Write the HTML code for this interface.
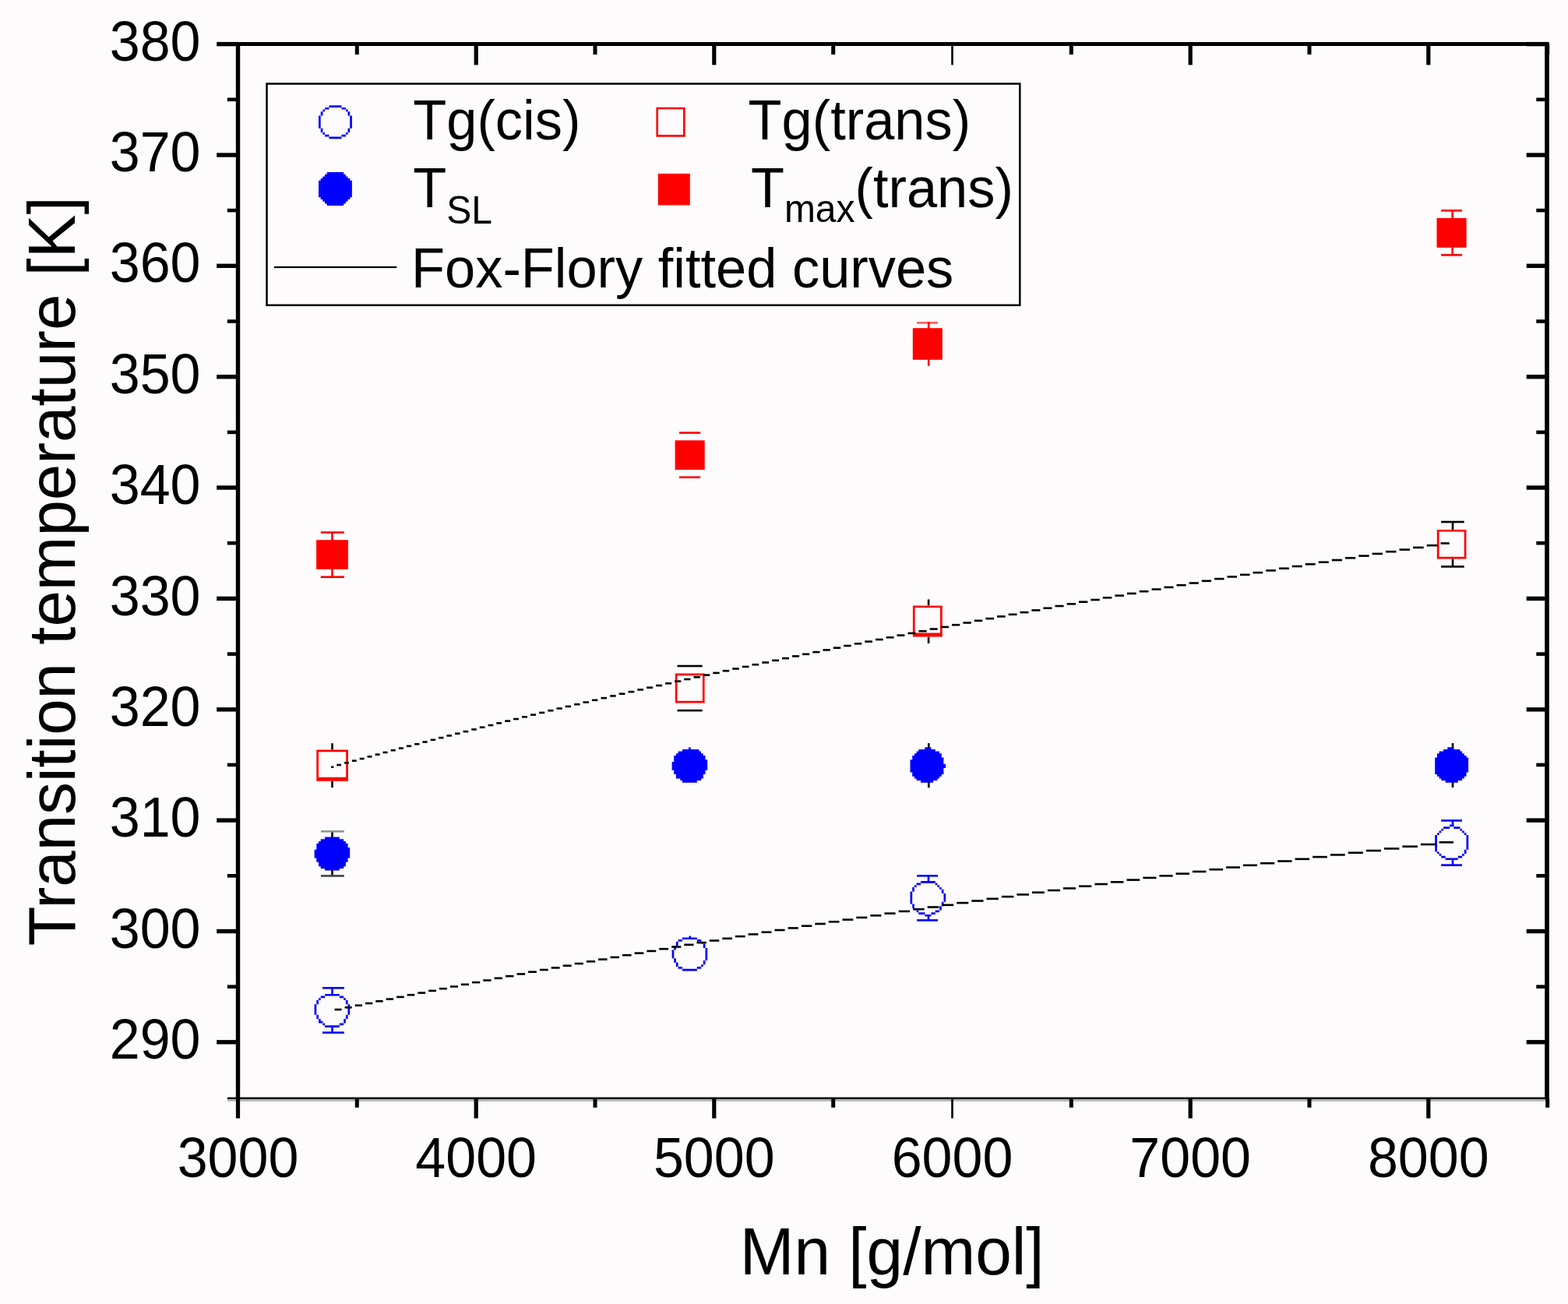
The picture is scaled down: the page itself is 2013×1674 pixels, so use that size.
<!DOCTYPE html>
<html><head><meta charset="utf-8"><title>Transition temperature vs Mn</title>
<style>
html,body{margin:0;padding:0;background:#fdfbfc;}
svg{display:block;}
text{font-family:'Liberation Sans', Arial, sans-serif;fill:#000;}
</style></head>
<body>
<svg width="2013" height="1674" viewBox="0 0 2013 1674">
<rect width="2013" height="1674" fill="#fdfbfc"/>
<rect x="302.8" y="54.0" width="1685.9" height="5.0" fill="#000"/>
<rect x="302.8" y="54.0" width="5.4" height="1359.5" fill="#000"/>
<rect x="1983.2" y="56.0" width="5.6" height="1357.5" fill="#000"/>
<rect x="292.0" y="1408.6" width="1696.8" height="2.4" fill="#000"/>
<rect x="292.0" y="1411.0" width="1696.8" height="2.9" fill="#b3b3b3"/>
<rect x="278.2" y="1335.1" width="27.3" height="5.4" fill="#000"/>
<rect x="1959.7" y="1335.1" width="26.3" height="5.4" fill="#000"/>
<rect x="278.2" y="1192.8" width="27.3" height="5.4" fill="#000"/>
<rect x="1959.7" y="1192.8" width="26.3" height="5.4" fill="#000"/>
<rect x="278.2" y="1050.4" width="27.3" height="5.4" fill="#000"/>
<rect x="1959.7" y="1050.4" width="26.3" height="5.4" fill="#000"/>
<rect x="278.2" y="908.1" width="27.3" height="5.4" fill="#000"/>
<rect x="1959.7" y="908.1" width="26.3" height="5.4" fill="#000"/>
<rect x="278.2" y="765.7" width="27.3" height="5.4" fill="#000"/>
<rect x="1959.7" y="765.7" width="26.3" height="5.4" fill="#000"/>
<rect x="278.2" y="623.3" width="27.3" height="5.4" fill="#000"/>
<rect x="1959.7" y="623.3" width="26.3" height="5.4" fill="#000"/>
<rect x="278.2" y="481.0" width="27.3" height="5.4" fill="#000"/>
<rect x="1959.7" y="481.0" width="26.3" height="5.4" fill="#000"/>
<rect x="278.2" y="338.6" width="27.3" height="5.4" fill="#000"/>
<rect x="1959.7" y="338.6" width="26.3" height="5.4" fill="#000"/>
<rect x="278.2" y="196.3" width="27.3" height="5.4" fill="#000"/>
<rect x="1959.7" y="196.3" width="26.3" height="5.4" fill="#000"/>
<rect x="278.2" y="53.9" width="27.3" height="5.4" fill="#000"/>
<rect x="1959.7" y="53.9" width="26.3" height="5.4" fill="#000"/>
<rect x="291.8" y="1264.4" width="13.7" height="4.6" fill="#000"/>
<rect x="1972.3" y="1264.4" width="13.7" height="4.6" fill="#000"/>
<rect x="291.8" y="1122.0" width="13.7" height="4.6" fill="#000"/>
<rect x="1972.3" y="1122.0" width="13.7" height="4.6" fill="#000"/>
<rect x="291.8" y="979.6" width="13.7" height="4.6" fill="#000"/>
<rect x="1972.3" y="979.6" width="13.7" height="4.6" fill="#000"/>
<rect x="291.8" y="837.3" width="13.7" height="4.6" fill="#000"/>
<rect x="1972.3" y="837.3" width="13.7" height="4.6" fill="#000"/>
<rect x="291.8" y="694.9" width="13.7" height="4.6" fill="#000"/>
<rect x="1972.3" y="694.9" width="13.7" height="4.6" fill="#000"/>
<rect x="291.8" y="552.6" width="13.7" height="4.6" fill="#000"/>
<rect x="1972.3" y="552.6" width="13.7" height="4.6" fill="#000"/>
<rect x="291.8" y="410.2" width="13.7" height="4.6" fill="#000"/>
<rect x="1972.3" y="410.2" width="13.7" height="4.6" fill="#000"/>
<rect x="291.8" y="267.8" width="13.7" height="4.6" fill="#000"/>
<rect x="1972.3" y="267.8" width="13.7" height="4.6" fill="#000"/>
<rect x="291.8" y="125.5" width="13.7" height="4.6" fill="#000"/>
<rect x="1972.3" y="125.5" width="13.7" height="4.6" fill="#000"/>
<rect x="302.9" y="1411.0" width="5.2" height="24.6" fill="#000"/>
<rect x="608.6" y="1411.0" width="5.2" height="24.6" fill="#000"/>
<rect x="608.6" y="56.5" width="5.2" height="26.9" fill="#000"/>
<rect x="914.2" y="1411.0" width="5.2" height="24.6" fill="#000"/>
<rect x="914.2" y="56.5" width="5.2" height="26.9" fill="#000"/>
<rect x="1221.2" y="1411.0" width="2.6" height="24.6" fill="#000"/>
<rect x="1221.2" y="56.5" width="2.6" height="26.9" fill="#000"/>
<rect x="1525.6" y="1411.0" width="5.2" height="24.6" fill="#000"/>
<rect x="1525.6" y="56.5" width="5.2" height="26.9" fill="#000"/>
<rect x="1831.2" y="1411.0" width="5.2" height="24.6" fill="#000"/>
<rect x="1831.2" y="56.5" width="5.2" height="26.9" fill="#000"/>
<rect x="455.8" y="1411.0" width="5.0" height="10.8" fill="#000"/>
<rect x="455.8" y="56.5" width="5.0" height="13.5" fill="#000"/>
<rect x="761.5" y="1411.0" width="5.0" height="10.8" fill="#000"/>
<rect x="761.5" y="56.5" width="5.0" height="13.5" fill="#000"/>
<rect x="1067.2" y="1411.0" width="5.0" height="10.8" fill="#000"/>
<rect x="1067.2" y="56.5" width="5.0" height="13.5" fill="#000"/>
<rect x="1372.8" y="1411.0" width="5.0" height="10.8" fill="#000"/>
<rect x="1372.8" y="56.5" width="5.0" height="13.5" fill="#000"/>
<rect x="1678.5" y="1411.0" width="5.0" height="10.8" fill="#000"/>
<rect x="1678.5" y="56.5" width="5.0" height="13.5" fill="#000"/>
<rect x="1984.2" y="1411.0" width="5.0" height="10.8" fill="#000"/>
<rect x="1984.2" y="56.5" width="5.0" height="13.5" fill="#000"/>
<text transform="matrix(1,0,0,1.035,0,-47.57)" x="257.5" y="1359.0" text-anchor="end" font-size="70">290</text>
<text transform="matrix(1,0,0,1.035,0,-42.58)" x="257.5" y="1216.7" text-anchor="end" font-size="70">300</text>
<text transform="matrix(1,0,0,1.035,0,-37.60)" x="257.5" y="1074.3" text-anchor="end" font-size="70">310</text>
<text transform="matrix(1,0,0,1.035,0,-32.62)" x="257.5" y="932.0" text-anchor="end" font-size="70">320</text>
<text transform="matrix(1,0,0,1.035,0,-27.64)" x="257.5" y="789.6" text-anchor="end" font-size="70">330</text>
<text transform="matrix(1,0,0,1.035,0,-22.65)" x="257.5" y="647.2" text-anchor="end" font-size="70">340</text>
<text transform="matrix(1,0,0,1.035,0,-17.67)" x="257.5" y="504.9" text-anchor="end" font-size="70">350</text>
<text transform="matrix(1,0,0,1.035,0,-12.69)" x="257.5" y="362.5" text-anchor="end" font-size="70">360</text>
<text transform="matrix(1,0,0,1.035,0,-7.71)" x="257.5" y="220.2" text-anchor="end" font-size="70">370</text>
<text transform="matrix(1,0,0,1.035,0,-2.72)" x="257.5" y="77.8" text-anchor="end" font-size="70">380</text>
<text transform="matrix(1,0,0,1.035,0,-52.88)" x="305.5" y="1511" text-anchor="middle" font-size="70">3000</text>
<text transform="matrix(1,0,0,1.035,0,-52.88)" x="611.2" y="1511" text-anchor="middle" font-size="70">4000</text>
<text transform="matrix(1,0,0,1.035,0,-52.88)" x="916.8" y="1511" text-anchor="middle" font-size="70">5000</text>
<text transform="matrix(1,0,0,1.035,0,-52.88)" x="1222.5" y="1511" text-anchor="middle" font-size="70">6000</text>
<text transform="matrix(1,0,0,1.035,0,-52.88)" x="1528.2" y="1511" text-anchor="middle" font-size="70">7000</text>
<text transform="matrix(1,0,0,1.035,0,-52.88)" x="1833.8" y="1511" text-anchor="middle" font-size="70">8000</text>
<text transform="matrix(1,0,0,1.015,0,-24.55)" x="1145.2" y="1636.5" text-anchor="middle" font-size="83.7">Mn [g/mol]</text>
<text transform="translate(95.5,733.4) rotate(-90) scale(1,1.015)" x="0" y="0" text-anchor="middle" font-size="83.5">Transition temperature [K]</text>
<rect x="425.2" y="683.5" width="2.6" height="57.2" fill="#ff0000"/>
<rect x="411.8" y="682.2" width="30.0" height="2.6" fill="#ff0000"/>
<rect x="411.8" y="739.4" width="30.0" height="2.6" fill="#ff0000"/>
<rect x="406.1" y="693.2" width="40.8" height="37.6" fill="#ff0000"/>
<rect x="872.0" y="554.3" width="27.2" height="2.6" fill="#ff0000"/>
<rect x="872.0" y="611.4" width="27.2" height="2.6" fill="#ff0000"/>
<rect x="866.6" y="565.3" width="38.1" height="37.8" fill="#ff0000"/>
<rect x="1177.0" y="413.1" width="27.0" height="2.6" fill="#ff5a5a"/>
<rect x="1190.9" y="413.2" width="2.6" height="56.5" fill="#ff0000"/>
<rect x="1171.8" y="421.2" width="38.0" height="40.6" fill="#ff0000"/>
<rect x="1863.3" y="270.3" width="2.6" height="57.1" fill="#ff0000"/>
<rect x="1850.1" y="269.0" width="26.9" height="2.6" fill="#ff0000"/>
<rect x="1850.1" y="326.1" width="26.9" height="2.6" fill="#ff0000"/>
<rect x="1844.5" y="280.0" width="38.1" height="37.8" fill="#ff0000"/>
<rect x="425.2" y="954.2" width="2.6" height="8.3" fill="#000"/>
<rect x="425.2" y="1002.8" width="2.6" height="8.2" fill="#000"/>
<path fill-rule="evenodd" fill="#ff0000" d="M406.3 962.5H446.9V1002.8H406.3zM409.0 965.2V997.8H444.2V965.2z"/>
<rect x="869.5" y="853.7" width="32.2" height="2.6" fill="#000"/>
<rect x="869.5" y="910.8" width="32.2" height="2.6" fill="#000"/>
<path fill-rule="evenodd" fill="#ff0000" d="M866.8 864.6H904.6V902.5H866.8zM869.5 867.3V899.8H901.9V867.3z"/>
<rect x="1190.8" y="769.5" width="2.6" height="7.9" fill="#000"/>
<rect x="1190.8" y="817.6" width="2.6" height="8.4" fill="#000"/>
<path fill-rule="evenodd" fill="#ff0000" d="M1171.9 777.4H1209.7V817.6H1171.9zM1174.6 780.1V812.6H1207.0V780.1z"/>
<rect x="1863.7" y="670.0" width="2.6" height="9.9" fill="#000"/>
<rect x="1863.7" y="717.5" width="2.6" height="9.9" fill="#000"/>
<rect x="1850.1" y="668.7" width="29.6" height="2.6" fill="#000"/>
<rect x="1850.1" y="726.1" width="29.6" height="2.6" fill="#000"/>
<path fill-rule="evenodd" fill="#ff0000" d="M1844.8 679.9H1882.4V717.5H1844.8zM1847.5 682.6V714.8H1879.7V682.6z"/>
<rect x="425.2" y="1067.3" width="2.6" height="57.1" fill="#000"/>
<rect x="412.0" y="1066.0" width="29.8" height="2.6" fill="#8c9c8c"/>
<rect x="412.0" y="1123.1" width="29.8" height="2.6" fill="#3c463c"/>
<path d="M417.0 1074.6h18.8v2.68h-18.8zM411.7 1077.3h29.5v2.68h-29.5zM409.0 1080.0h34.9v2.68h-34.9zM406.3 1082.7h40.3v2.68h-40.3zM406.3 1085.3h40.3v2.68h-40.3zM406.3 1088.0h42.9v2.68h-42.9zM403.6 1090.7h45.6v2.68h-45.6zM403.6 1093.4h45.6v2.68h-45.6zM403.6 1096.1h45.6v2.68h-45.6zM403.6 1098.8h45.6v2.68h-45.6zM406.3 1101.4h40.3v2.68h-40.3zM406.3 1104.1h40.3v2.68h-40.3zM409.0 1106.8h34.9v2.68h-34.9zM409.0 1109.5h34.9v2.68h-34.9zM411.7 1112.2h29.5v2.68h-29.5zM417.0 1114.9h18.8v2.68h-18.8z" fill="#0000ff"/>
<path d="M884.0 959.2h2.7v2.68h-2.7zM876.0 961.9h21.5v2.68h-21.5zM870.6 964.6h29.5v2.68h-29.5zM867.9 967.2h34.9v2.68h-34.9zM865.2 969.9h40.3v2.68h-40.3zM865.2 972.6h40.3v2.68h-40.3zM865.2 975.3h42.9v2.68h-42.9zM862.6 978.0h45.6v2.68h-45.6zM862.6 980.7h45.6v2.68h-45.6zM862.6 983.3h45.6v2.68h-45.6zM862.6 986.0h45.6v2.68h-45.6zM865.2 988.7h40.3v2.68h-40.3zM865.2 991.4h40.3v2.68h-40.3zM867.9 994.1h34.9v2.68h-34.9zM867.9 996.8h34.9v2.68h-34.9zM873.3 999.4h26.8v2.68h-26.8zM876.0 1002.1h18.8v2.68h-18.8z" fill="#0000ff"/>
<rect x="1191.0" y="954.1" width="2.6" height="57.1" fill="#000"/>
<path d="M1187.3 959.2h8.1v2.68h-8.1zM1179.3 961.9h21.5v2.68h-21.5zM1176.6 964.6h29.5v2.68h-29.5zM1173.9 967.2h34.9v2.68h-34.9zM1171.2 969.9h37.6v2.68h-37.6zM1171.2 972.6h40.3v2.68h-40.3zM1168.5 975.3h42.9v2.68h-42.9zM1168.5 978.0h42.9v2.68h-42.9zM1168.5 980.7h45.6v2.68h-45.6zM1168.5 983.3h45.6v2.68h-45.6zM1168.5 986.0h42.9v2.68h-42.9zM1168.5 988.7h42.9v2.68h-42.9zM1171.2 991.4h40.3v2.68h-40.3zM1171.2 994.1h37.6v2.68h-37.6zM1173.9 996.8h32.2v2.68h-32.2zM1176.6 999.4h26.8v2.68h-26.8zM1182.0 1002.1h16.1v2.68h-16.1z" fill="#0000ff"/>
<rect x="1863.7" y="954.0" width="2.6" height="57.0" fill="#000"/>
<path d="M1858.3 959.2h8.1v2.68h-8.1zM1853.0 961.9h21.5v2.68h-21.5zM1847.6 964.6h29.5v2.68h-29.5zM1844.9 967.2h34.9v2.68h-34.9zM1844.9 969.9h37.6v2.68h-37.6zM1842.2 972.6h42.9v2.68h-42.9zM1842.2 975.3h42.9v2.68h-42.9zM1842.2 978.0h42.9v2.68h-42.9zM1842.2 980.7h42.9v2.68h-42.9zM1842.2 983.3h42.9v2.68h-42.9zM1842.2 986.0h42.9v2.68h-42.9zM1842.2 988.7h42.9v2.68h-42.9zM1842.2 991.4h40.3v2.68h-40.3zM1844.9 994.1h37.6v2.68h-37.6zM1847.6 996.8h32.2v2.68h-32.2zM1850.3 999.4h26.8v2.68h-26.8zM1855.6 1002.1h16.1v2.68h-16.1z" fill="#0000ff"/>
<rect x="425.2" y="1268.3" width="2.6" height="7.7" fill="#0000ff"/>
<rect x="425.2" y="1318.0" width="2.6" height="7.6" fill="#0000ff"/>
<rect x="414.0" y="1267.0" width="27.8" height="2.6" fill="#0000ff"/>
<rect x="414.0" y="1324.3" width="27.8" height="2.6" fill="#0000ff"/>
<path d="M417.0 1275.9h18.8v2.68h-18.8zM411.7 1278.6h5.4v2.68h-5.4zM435.8 1278.6h5.4v2.68h-5.4zM409.0 1281.3h2.7v2.68h-2.7zM441.2 1281.3h2.7v2.68h-2.7zM406.3 1284.0h2.7v2.68h-2.7zM443.9 1284.0h2.7v2.68h-2.7zM406.3 1286.6h2.7v2.68h-2.7zM443.9 1286.6h2.7v2.68h-2.7zM403.6 1289.3h2.7v2.68h-2.7zM446.5 1289.3h2.7v2.68h-2.7zM403.6 1292.0h2.7v2.68h-2.7zM446.5 1292.0h2.7v2.68h-2.7zM403.6 1294.7h2.7v2.68h-2.7zM446.5 1294.7h2.7v2.68h-2.7zM403.6 1297.4h2.7v2.68h-2.7zM446.5 1297.4h2.7v2.68h-2.7zM403.6 1300.1h2.7v2.68h-2.7zM446.5 1300.1h2.7v2.68h-2.7zM406.3 1302.7h2.7v2.68h-2.7zM443.9 1302.7h2.7v2.68h-2.7zM406.3 1305.4h2.7v2.68h-2.7zM443.9 1305.4h2.7v2.68h-2.7zM409.0 1308.1h2.7v2.68h-2.7zM441.2 1308.1h2.7v2.68h-2.7zM409.0 1310.8h5.4v2.68h-5.4zM441.2 1310.8h2.7v2.68h-2.7zM414.3 1313.5h2.7v2.68h-2.7zM435.8 1313.5h5.4v2.68h-5.4zM417.0 1316.2h18.8v2.68h-18.8z" fill="#0000ff"/>
<rect x="884.5" y="1201.5" width="2.6" height="3.0" fill="#0000ff"/>
<path d="M876.0 1203.4h18.8v2.68h-18.8zM870.6 1206.1h5.4v2.68h-5.4zM894.8 1206.1h5.4v2.68h-5.4zM867.9 1208.8h2.7v2.68h-2.7zM900.1 1208.8h2.7v2.68h-2.7zM867.9 1211.5h2.7v2.68h-2.7zM902.8 1211.5h2.7v2.68h-2.7zM865.2 1214.2h2.7v2.68h-2.7zM902.8 1214.2h2.7v2.68h-2.7zM865.2 1216.9h2.7v2.68h-2.7zM905.5 1216.9h2.7v2.68h-2.7zM862.6 1219.5h2.7v2.68h-2.7zM905.5 1219.5h2.7v2.68h-2.7zM862.6 1222.2h2.7v2.68h-2.7zM905.5 1222.2h2.7v2.68h-2.7zM862.6 1224.9h2.7v2.68h-2.7zM905.5 1224.9h2.7v2.68h-2.7zM862.6 1227.6h2.7v2.68h-2.7zM905.5 1227.6h2.7v2.68h-2.7zM865.2 1230.3h2.7v2.68h-2.7zM905.5 1230.3h2.7v2.68h-2.7zM865.2 1233.0h2.7v2.68h-2.7zM902.8 1233.0h2.7v2.68h-2.7zM867.9 1235.6h2.7v2.68h-2.7zM902.8 1235.6h2.7v2.68h-2.7zM867.9 1238.3h2.7v2.68h-2.7zM900.1 1238.3h2.7v2.68h-2.7zM870.6 1241.0h5.4v2.68h-5.4zM894.8 1241.0h5.4v2.68h-5.4zM876.0 1243.7h18.8v2.68h-18.8z" fill="#0000ff"/>
<rect x="1190.7" y="1124.3" width="2.6" height="7.7" fill="#0000ff"/>
<rect x="1190.7" y="1174.0" width="2.6" height="7.4" fill="#0000ff"/>
<rect x="1177.1" y="1123.0" width="26.9" height="2.6" fill="#0000ff"/>
<rect x="1177.1" y="1180.1" width="26.9" height="2.6" fill="#0000ff"/>
<path d="M1182.0 1131.0h18.8v2.68h-18.8zM1176.6 1133.6h5.4v2.68h-5.4zM1200.7 1133.6h2.7v2.68h-2.7zM1173.9 1136.3h2.7v2.68h-2.7zM1203.4 1136.3h2.7v2.68h-2.7zM1171.2 1139.0h2.7v2.68h-2.7zM1206.1 1139.0h2.7v2.68h-2.7zM1171.2 1141.7h2.7v2.68h-2.7zM1208.8 1141.7h2.7v2.68h-2.7zM1168.5 1144.4h2.7v2.68h-2.7zM1208.8 1144.4h2.7v2.68h-2.7zM1168.5 1147.1h2.7v2.68h-2.7zM1211.5 1147.1h2.7v2.68h-2.7zM1168.5 1149.8h2.7v2.68h-2.7zM1211.5 1149.8h2.7v2.68h-2.7zM1168.5 1152.4h2.7v2.68h-2.7zM1211.5 1152.4h2.7v2.68h-2.7zM1168.5 1155.1h2.7v2.68h-2.7zM1211.5 1155.1h2.7v2.68h-2.7zM1168.5 1157.8h2.7v2.68h-2.7zM1208.8 1157.8h2.7v2.68h-2.7zM1171.2 1160.5h2.7v2.68h-2.7zM1208.8 1160.5h2.7v2.68h-2.7zM1171.2 1163.2h2.7v2.68h-2.7zM1206.1 1163.2h2.7v2.68h-2.7zM1173.9 1165.9h2.7v2.68h-2.7zM1206.1 1165.9h2.7v2.68h-2.7zM1176.6 1168.5h2.7v2.68h-2.7zM1200.7 1168.5h5.4v2.68h-5.4zM1179.3 1171.2h8.1v2.68h-8.1zM1195.4 1171.2h5.4v2.68h-5.4zM1187.3 1173.9h8.1v2.68h-8.1z" fill="#0000ff"/>
<rect x="1863.7" y="1053.4" width="2.6" height="7.6" fill="#0000ff"/>
<rect x="1863.7" y="1103.0" width="2.6" height="7.6" fill="#0000ff"/>
<rect x="1850.1" y="1052.1" width="26.9" height="2.6" fill="#0000ff"/>
<rect x="1850.1" y="1109.3" width="26.9" height="2.6" fill="#0000ff"/>
<path d="M1861.0 1058.5h5.4v2.68h-5.4zM1853.0 1061.2h8.1v2.68h-8.1zM1866.4 1061.2h8.1v2.68h-8.1zM1850.3 1063.9h2.7v2.68h-2.7zM1874.4 1063.9h2.7v2.68h-2.7zM1847.6 1066.5h2.7v2.68h-2.7zM1877.1 1066.5h2.7v2.68h-2.7zM1844.9 1069.2h2.7v2.68h-2.7zM1879.8 1069.2h2.7v2.68h-2.7zM1842.2 1071.9h2.7v2.68h-2.7zM1882.5 1071.9h2.7v2.68h-2.7zM1842.2 1074.6h2.7v2.68h-2.7zM1882.5 1074.6h2.7v2.68h-2.7zM1842.2 1077.3h2.7v2.68h-2.7zM1882.5 1077.3h2.7v2.68h-2.7zM1842.2 1080.0h2.7v2.68h-2.7zM1882.5 1080.0h2.7v2.68h-2.7zM1842.2 1082.7h2.7v2.68h-2.7zM1882.5 1082.7h2.7v2.68h-2.7zM1842.2 1085.3h2.7v2.68h-2.7zM1882.5 1085.3h2.7v2.68h-2.7zM1842.2 1088.0h2.7v2.68h-2.7zM1882.5 1088.0h2.7v2.68h-2.7zM1842.2 1090.7h2.7v2.68h-2.7zM1879.8 1090.7h2.7v2.68h-2.7zM1844.9 1093.4h2.7v2.68h-2.7zM1879.8 1093.4h2.7v2.68h-2.7zM1847.6 1096.1h2.7v2.68h-2.7zM1877.1 1096.1h2.7v2.68h-2.7zM1850.3 1098.8h5.4v2.68h-5.4zM1871.7 1098.8h5.4v2.68h-5.4zM1855.6 1101.4h16.1v2.68h-16.1z" fill="#0000ff"/>
<rect x="425.1" y="983.4" width="3.2" height="2.6" fill="#000"/>
<rect x="432.3" y="980.7" width="5.7" height="2.6" fill="#000"/>
<rect x="442.1" y="978.0" width="5.8" height="2.6" fill="#000"/>
<rect x="451.9" y="975.3" width="5.8" height="2.6" fill="#000"/>
<rect x="461.7" y="972.7" width="5.9" height="2.6" fill="#000"/>
<rect x="471.6" y="970.0" width="5.9" height="2.6" fill="#000"/>
<rect x="481.6" y="967.3" width="6.0" height="2.6" fill="#000"/>
<rect x="491.6" y="964.6" width="6.0" height="2.6" fill="#000"/>
<rect x="501.7" y="961.9" width="6.1" height="2.6" fill="#000"/>
<rect x="511.8" y="959.2" width="6.1" height="2.6" fill="#000"/>
<rect x="521.9" y="956.5" width="6.2" height="2.6" fill="#000"/>
<rect x="532.1" y="953.9" width="6.3" height="2.6" fill="#000"/>
<rect x="542.4" y="951.2" width="6.3" height="2.6" fill="#000"/>
<rect x="552.7" y="948.5" width="6.4" height="2.6" fill="#000"/>
<rect x="563.1" y="945.8" width="6.4" height="2.6" fill="#000"/>
<rect x="573.5" y="943.1" width="6.5" height="2.6" fill="#000"/>
<rect x="584.0" y="940.4" width="6.5" height="2.6" fill="#000"/>
<rect x="594.6" y="937.8" width="6.6" height="2.6" fill="#000"/>
<rect x="605.2" y="935.1" width="6.6" height="2.6" fill="#000"/>
<rect x="615.8" y="932.4" width="6.7" height="2.6" fill="#000"/>
<rect x="626.6" y="929.7" width="6.7" height="2.6" fill="#000"/>
<rect x="637.3" y="927.0" width="6.8" height="2.6" fill="#000"/>
<rect x="648.2" y="924.3" width="6.9" height="2.6" fill="#000"/>
<rect x="659.1" y="921.7" width="6.9" height="2.6" fill="#000"/>
<rect x="670.0" y="919.0" width="7.0" height="2.6" fill="#000"/>
<rect x="681.0" y="916.3" width="7.1" height="2.6" fill="#000"/>
<rect x="692.1" y="913.6" width="7.1" height="2.6" fill="#000"/>
<rect x="703.3" y="910.9" width="7.2" height="2.6" fill="#000"/>
<rect x="714.5" y="908.2" width="7.2" height="2.6" fill="#000"/>
<rect x="725.7" y="905.6" width="7.3" height="2.6" fill="#000"/>
<rect x="737.1" y="902.9" width="7.4" height="2.6" fill="#000"/>
<rect x="748.5" y="900.2" width="7.4" height="2.6" fill="#000"/>
<rect x="759.9" y="897.5" width="7.5" height="2.6" fill="#000"/>
<rect x="771.5" y="894.8" width="7.6" height="2.6" fill="#000"/>
<rect x="783.1" y="892.1" width="7.6" height="2.6" fill="#000"/>
<rect x="794.7" y="889.4" width="7.7" height="2.6" fill="#000"/>
<rect x="806.5" y="886.8" width="7.8" height="2.6" fill="#000"/>
<rect x="818.3" y="884.1" width="7.8" height="2.6" fill="#000"/>
<rect x="830.1" y="881.4" width="7.9" height="2.6" fill="#000"/>
<rect x="842.1" y="878.7" width="8.0" height="2.6" fill="#000"/>
<rect x="854.1" y="876.0" width="8.0" height="2.6" fill="#000"/>
<rect x="866.2" y="873.3" width="8.1" height="2.6" fill="#000"/>
<rect x="878.3" y="870.7" width="8.2" height="2.6" fill="#000"/>
<rect x="890.6" y="868.0" width="8.3" height="2.6" fill="#000"/>
<rect x="902.9" y="865.3" width="8.4" height="2.6" fill="#000"/>
<rect x="915.3" y="862.6" width="8.4" height="2.6" fill="#000"/>
<rect x="927.7" y="859.9" width="8.5" height="2.6" fill="#000"/>
<rect x="940.2" y="857.2" width="8.6" height="2.6" fill="#000"/>
<rect x="952.8" y="854.6" width="8.7" height="2.6" fill="#000"/>
<rect x="965.5" y="851.9" width="8.7" height="2.6" fill="#000"/>
<rect x="978.3" y="849.2" width="8.8" height="2.6" fill="#000"/>
<rect x="991.1" y="846.5" width="8.9" height="2.6" fill="#000"/>
<rect x="1004.0" y="843.8" width="9.0" height="2.6" fill="#000"/>
<rect x="1017.0" y="841.1" width="9.1" height="2.6" fill="#000"/>
<rect x="1030.1" y="838.5" width="9.1" height="2.6" fill="#000"/>
<rect x="1043.3" y="835.8" width="9.2" height="2.6" fill="#000"/>
<rect x="1056.5" y="833.1" width="9.3" height="2.6" fill="#000"/>
<rect x="1069.8" y="830.4" width="9.4" height="2.6" fill="#000"/>
<rect x="1083.2" y="827.7" width="9.5" height="2.6" fill="#000"/>
<rect x="1096.7" y="825.0" width="9.6" height="2.6" fill="#000"/>
<rect x="1110.3" y="822.3" width="9.6" height="2.6" fill="#000"/>
<rect x="1124.0" y="819.7" width="9.7" height="2.6" fill="#000"/>
<rect x="1137.7" y="817.0" width="9.8" height="2.6" fill="#000"/>
<rect x="1151.5" y="814.3" width="9.9" height="2.6" fill="#000"/>
<rect x="1165.5" y="811.6" width="10.0" height="2.6" fill="#000"/>
<rect x="1179.5" y="808.9" width="10.1" height="2.6" fill="#000"/>
<rect x="1193.6" y="806.2" width="10.1" height="2.6" fill="#000"/>
<rect x="1207.7" y="803.6" width="10.3" height="2.6" fill="#000"/>
<rect x="1222.0" y="800.9" width="10.3" height="2.6" fill="#000"/>
<rect x="1236.4" y="798.2" width="10.4" height="2.6" fill="#000"/>
<rect x="1250.8" y="795.5" width="10.5" height="2.6" fill="#000"/>
<rect x="1265.4" y="792.8" width="10.6" height="2.6" fill="#000"/>
<rect x="1280.0" y="790.1" width="10.7" height="2.6" fill="#000"/>
<rect x="1294.7" y="787.5" width="10.8" height="2.6" fill="#000"/>
<rect x="1309.5" y="784.8" width="10.9" height="2.6" fill="#000"/>
<rect x="1324.4" y="782.1" width="11.0" height="2.6" fill="#000"/>
<rect x="1339.4" y="779.4" width="11.1" height="2.6" fill="#000"/>
<rect x="1354.5" y="776.7" width="11.1" height="2.6" fill="#000"/>
<rect x="1369.7" y="774.0" width="11.3" height="2.6" fill="#000"/>
<rect x="1385.0" y="771.4" width="11.3" height="2.6" fill="#000"/>
<rect x="1400.3" y="768.7" width="11.5" height="2.6" fill="#000"/>
<rect x="1415.8" y="766.0" width="11.5" height="2.6" fill="#000"/>
<rect x="1431.4" y="763.3" width="11.6" height="2.6" fill="#000"/>
<rect x="1447.0" y="760.6" width="11.7" height="2.6" fill="#000"/>
<rect x="1462.7" y="757.9" width="11.8" height="2.6" fill="#000"/>
<rect x="1478.6" y="755.2" width="11.9" height="2.6" fill="#000"/>
<rect x="1494.5" y="752.6" width="12.0" height="2.6" fill="#000"/>
<rect x="1510.5" y="749.9" width="12.1" height="2.6" fill="#000"/>
<rect x="1526.6" y="747.2" width="12.2" height="2.6" fill="#000"/>
<rect x="1542.8" y="744.5" width="12.3" height="2.6" fill="#000"/>
<rect x="1559.1" y="741.8" width="12.4" height="2.6" fill="#000"/>
<rect x="1575.5" y="739.1" width="12.5" height="2.6" fill="#000"/>
<rect x="1592.0" y="736.5" width="12.5" height="2.6" fill="#000"/>
<rect x="1608.6" y="733.8" width="12.6" height="2.6" fill="#000"/>
<rect x="1625.2" y="731.1" width="12.7" height="2.6" fill="#000"/>
<rect x="1642.0" y="728.4" width="12.8" height="2.6" fill="#000"/>
<rect x="1658.8" y="725.7" width="12.9" height="2.6" fill="#000"/>
<rect x="1675.7" y="723.0" width="13.0" height="2.6" fill="#000"/>
<rect x="1692.7" y="720.4" width="13.1" height="2.6" fill="#000"/>
<rect x="1709.8" y="717.7" width="13.2" height="2.6" fill="#000"/>
<rect x="1727.0" y="715.0" width="13.2" height="2.6" fill="#000"/>
<rect x="1744.3" y="712.3" width="13.3" height="2.6" fill="#000"/>
<rect x="1761.6" y="709.6" width="13.4" height="2.6" fill="#000"/>
<rect x="1779.0" y="706.9" width="13.5" height="2.6" fill="#000"/>
<rect x="1796.5" y="704.3" width="13.6" height="2.6" fill="#000"/>
<rect x="1814.1" y="701.6" width="13.6" height="2.6" fill="#000"/>
<rect x="1831.8" y="698.9" width="13.7" height="2.6" fill="#000"/>
<rect x="1849.5" y="696.2" width="11.2" height="2.6" fill="#000"/>
<rect x="429.6" y="1294.7" width="9.0" height="2.6" fill="#000"/>
<rect x="442.6" y="1292.0" width="9.1" height="2.6" fill="#000"/>
<rect x="455.8" y="1289.4" width="9.2" height="2.6" fill="#000"/>
<rect x="469.0" y="1286.7" width="9.3" height="2.6" fill="#000"/>
<rect x="482.3" y="1284.0" width="9.4" height="2.6" fill="#000"/>
<rect x="495.7" y="1281.3" width="9.4" height="2.6" fill="#000"/>
<rect x="509.1" y="1278.6" width="9.6" height="2.6" fill="#000"/>
<rect x="522.7" y="1275.9" width="9.6" height="2.6" fill="#000"/>
<rect x="536.4" y="1273.3" width="9.7" height="2.6" fill="#000"/>
<rect x="550.1" y="1270.6" width="9.8" height="2.6" fill="#000"/>
<rect x="563.9" y="1267.9" width="9.9" height="2.6" fill="#000"/>
<rect x="577.9" y="1265.2" width="10.0" height="2.6" fill="#000"/>
<rect x="591.9" y="1262.5" width="10.1" height="2.6" fill="#000"/>
<rect x="606.0" y="1259.8" width="10.2" height="2.6" fill="#000"/>
<rect x="620.3" y="1257.2" width="10.3" height="2.6" fill="#000"/>
<rect x="634.6" y="1254.5" width="10.4" height="2.6" fill="#000"/>
<rect x="649.0" y="1251.8" width="10.5" height="2.6" fill="#000"/>
<rect x="663.5" y="1249.1" width="10.6" height="2.6" fill="#000"/>
<rect x="678.1" y="1246.4" width="10.7" height="2.6" fill="#000"/>
<rect x="692.9" y="1243.7" width="10.8" height="2.6" fill="#000"/>
<rect x="707.7" y="1241.1" width="10.9" height="2.6" fill="#000"/>
<rect x="722.7" y="1238.4" width="11.0" height="2.6" fill="#000"/>
<rect x="737.7" y="1235.7" width="11.1" height="2.6" fill="#000"/>
<rect x="752.9" y="1233.0" width="11.2" height="2.6" fill="#000"/>
<rect x="768.1" y="1230.3" width="11.4" height="2.6" fill="#000"/>
<rect x="783.5" y="1227.6" width="11.5" height="2.6" fill="#000"/>
<rect x="799.0" y="1224.9" width="11.6" height="2.6" fill="#000"/>
<rect x="814.6" y="1222.3" width="11.7" height="2.6" fill="#000"/>
<rect x="830.4" y="1219.6" width="11.8" height="2.6" fill="#000"/>
<rect x="846.2" y="1216.9" width="11.9" height="2.6" fill="#000"/>
<rect x="862.2" y="1214.2" width="12.1" height="2.6" fill="#000"/>
<rect x="878.3" y="1211.5" width="12.2" height="2.6" fill="#000"/>
<rect x="894.5" y="1208.8" width="12.3" height="2.6" fill="#000"/>
<rect x="910.8" y="1206.2" width="12.5" height="2.6" fill="#000"/>
<rect x="927.3" y="1203.5" width="12.6" height="2.6" fill="#000"/>
<rect x="943.9" y="1200.8" width="12.7" height="2.6" fill="#000"/>
<rect x="960.6" y="1198.1" width="12.8" height="2.6" fill="#000"/>
<rect x="977.5" y="1195.4" width="13.0" height="2.6" fill="#000"/>
<rect x="994.5" y="1192.7" width="13.1" height="2.6" fill="#000"/>
<rect x="1011.6" y="1190.1" width="13.2" height="2.6" fill="#000"/>
<rect x="1028.9" y="1187.4" width="13.4" height="2.6" fill="#000"/>
<rect x="1046.3" y="1184.7" width="13.5" height="2.6" fill="#000"/>
<rect x="1063.8" y="1182.0" width="13.7" height="2.6" fill="#000"/>
<rect x="1081.5" y="1179.3" width="13.8" height="2.6" fill="#000"/>
<rect x="1099.3" y="1176.6" width="14.0" height="2.6" fill="#000"/>
<rect x="1117.3" y="1174.0" width="14.1" height="2.6" fill="#000"/>
<rect x="1135.4" y="1171.3" width="14.2" height="2.6" fill="#000"/>
<rect x="1153.7" y="1168.6" width="14.4" height="2.6" fill="#000"/>
<rect x="1172.1" y="1165.9" width="14.5" height="2.6" fill="#000"/>
<rect x="1190.7" y="1163.2" width="14.7" height="2.6" fill="#000"/>
<rect x="1209.4" y="1160.5" width="14.8" height="2.6" fill="#000"/>
<rect x="1228.3" y="1157.8" width="15.0" height="2.6" fill="#000"/>
<rect x="1247.3" y="1155.2" width="15.2" height="2.6" fill="#000"/>
<rect x="1266.5" y="1152.5" width="15.3" height="2.6" fill="#000"/>
<rect x="1285.9" y="1149.8" width="15.5" height="2.6" fill="#000"/>
<rect x="1305.4" y="1147.1" width="15.6" height="2.6" fill="#000"/>
<rect x="1325.0" y="1144.4" width="15.8" height="2.6" fill="#000"/>
<rect x="1344.9" y="1141.7" width="16.0" height="2.6" fill="#000"/>
<rect x="1364.9" y="1139.1" width="16.1" height="2.6" fill="#000"/>
<rect x="1385.0" y="1136.4" width="16.3" height="2.6" fill="#000"/>
<rect x="1405.4" y="1133.7" width="16.5" height="2.6" fill="#000"/>
<rect x="1425.9" y="1131.0" width="16.6" height="2.6" fill="#000"/>
<rect x="1446.5" y="1128.3" width="16.8" height="2.6" fill="#000"/>
<rect x="1467.4" y="1125.6" width="17.0" height="2.6" fill="#000"/>
<rect x="1488.4" y="1123.0" width="17.2" height="2.6" fill="#000"/>
<rect x="1509.6" y="1120.3" width="17.3" height="2.6" fill="#000"/>
<rect x="1530.9" y="1117.6" width="17.5" height="2.6" fill="#000"/>
<rect x="1552.4" y="1114.9" width="17.7" height="2.6" fill="#000"/>
<rect x="1574.1" y="1112.2" width="17.8" height="2.6" fill="#000"/>
<rect x="1596.0" y="1109.5" width="18.0" height="2.6" fill="#000"/>
<rect x="1618.0" y="1106.9" width="18.2" height="2.6" fill="#000"/>
<rect x="1640.2" y="1104.2" width="18.3" height="2.6" fill="#000"/>
<rect x="1662.6" y="1101.5" width="18.5" height="2.6" fill="#000"/>
<rect x="1685.1" y="1098.8" width="18.7" height="2.6" fill="#000"/>
<rect x="1707.9" y="1096.1" width="18.8" height="2.6" fill="#000"/>
<rect x="1730.7" y="1093.4" width="19.1" height="2.6" fill="#000"/>
<rect x="1753.8" y="1090.7" width="19.2" height="2.6" fill="#000"/>
<rect x="1777.0" y="1088.1" width="19.3" height="2.6" fill="#000"/>
<rect x="1800.4" y="1085.4" width="19.5" height="2.6" fill="#000"/>
<rect x="1823.9" y="1082.7" width="19.7" height="2.6" fill="#000"/>
<rect x="1847.6" y="1080.0" width="18.4" height="2.6" fill="#000"/>
<rect x="342.5" y="107.5" width="966.8" height="284.3" fill="none" stroke="#000" stroke-width="2.5"/>
<path d="M422.4 135.2h16.1v2.68h-16.1zM417.0 137.9h5.4v2.68h-5.4zM438.5 137.9h5.4v2.68h-5.4zM414.3 140.6h2.7v2.68h-2.7zM443.9 140.6h2.7v2.68h-2.7zM411.7 143.3h2.7v2.68h-2.7zM446.5 143.3h2.7v2.68h-2.7zM411.7 145.9h2.7v2.68h-2.7zM446.5 145.9h2.7v2.68h-2.7zM409.0 148.6h2.7v2.68h-2.7zM449.2 148.6h2.7v2.68h-2.7zM409.0 151.3h2.7v2.68h-2.7zM449.2 151.3h2.7v2.68h-2.7zM409.0 154.0h2.7v2.68h-2.7zM449.2 154.0h2.7v2.68h-2.7zM409.0 156.7h2.7v2.68h-2.7zM449.2 156.7h2.7v2.68h-2.7zM409.0 159.4h2.7v2.68h-2.7zM449.2 159.4h2.7v2.68h-2.7zM409.0 162.0h2.7v2.68h-2.7zM449.2 162.0h2.7v2.68h-2.7zM411.7 164.7h2.7v2.68h-2.7zM446.5 164.7h2.7v2.68h-2.7zM411.7 167.4h2.7v2.68h-2.7zM446.5 167.4h2.7v2.68h-2.7zM414.3 170.1h2.7v2.68h-2.7zM443.9 170.1h2.7v2.68h-2.7zM417.0 172.8h5.4v2.68h-5.4zM438.5 172.8h5.4v2.68h-5.4zM422.4 175.5h16.1v2.68h-16.1z" fill="#0000ff"/>
<path d="M419.7 221.1h21.5v2.68h-21.5zM417.0 223.8h26.8v2.68h-26.8zM414.3 226.5h32.2v2.68h-32.2zM411.7 229.1h37.6v2.68h-37.6zM409.0 231.8h42.9v2.68h-42.9zM409.0 234.5h42.9v2.68h-42.9zM409.0 237.2h42.9v2.68h-42.9zM409.0 239.9h42.9v2.68h-42.9zM409.0 242.6h42.9v2.68h-42.9zM409.0 245.2h42.9v2.68h-42.9zM409.0 247.9h42.9v2.68h-42.9zM409.0 250.6h42.9v2.68h-42.9zM411.7 253.3h37.6v2.68h-37.6zM414.3 256.0h32.2v2.68h-32.2zM417.0 258.7h26.8v2.68h-26.8zM419.7 261.3h21.5v2.68h-21.5z" fill="#0000ff"/>
<path fill-rule="evenodd" fill="#ff0000" d="M842.4 137.7H879.6V175.7H842.4zM845.0 140.3V173.1H877.0V140.3z"/>
<rect x="844.8" y="222.9" width="41.0" height="40.5" fill="#ff0000"/>
<rect x="351.9" y="341.9" width="157.4" height="2.2" fill="#000"/>
<text transform="matrix(1,0,0,1.035,0,-6.28)" x="530.3" y="179.5" font-size="70.4">Tg(cis)</text>
<text transform="matrix(1,0,0,1.035,0,-6.28)" x="960.6" y="179.5" font-size="70.4">Tg(trans)</text>
<text transform="matrix(1,0,0,1.035,0,-9.31)" x="530.3" y="265.9" font-size="70.4">T<tspan font-size="48" dy="20">SL</tspan></text>
<text transform="matrix(1,0,0,1.035,0,-9.32)" x="963.9" y="266.4" font-size="70.4">T<tspan font-size="48" dy="18">max</tspan><tspan dy="-18">(trans)</tspan></text>
<text transform="matrix(1,0,0,1.035,0,-12.93)" x="528.1" y="369.5" font-size="70.4">Fox-Flory fitted curves</text>
</svg>
</body></html>
